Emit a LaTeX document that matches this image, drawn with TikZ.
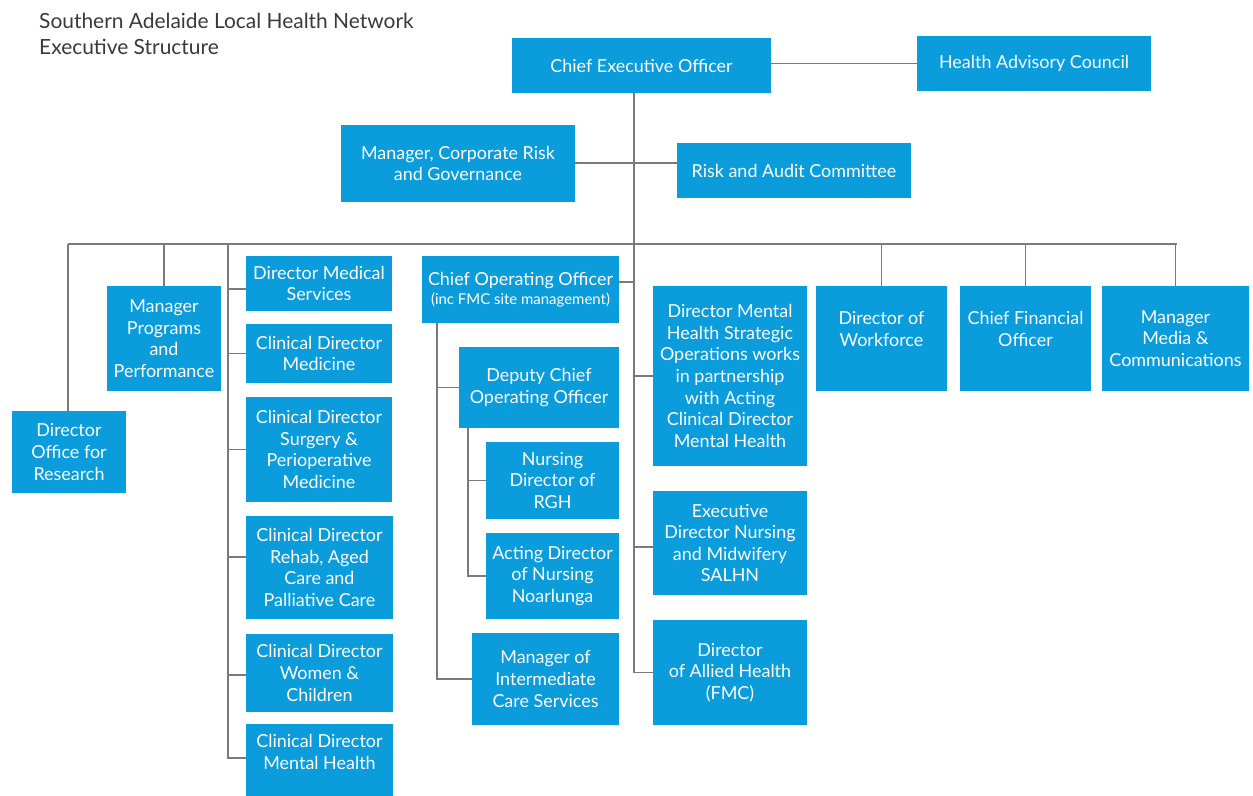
\documentclass[tikz,border=0pt]{standalone}
\usepackage{fontspec}
\setmainfont{Lato}
\definecolor{boxblue}{HTML}{0A9CDB}
\definecolor{linegray}{HTML}{7A7A7A}
\definecolor{titlegray}{HTML}{3A3A3A}
\begin{document}
\begin{tikzpicture}[x=1bp,y=-1bp,
  box/.style={fill=boxblue,text=white,inner sep=0pt,align=center,
    font=\fontsize{18}{21.7}\selectfont},
  conn/.style={draw=linegray,line width=1.3bp},
  ttl/.style={text=titlegray,align=left,anchor=north west,inner sep=0pt,
    font=\fontsize{21}{26}\selectfont}]
\useasboundingbox (0,0) rectangle (1253,796);
\fill[white] (0,0) rectangle (1253,796);

\node[ttl] (title) at (39,13) {Southern Adelaide Local Health Network\\Executive Structure};

\node[box,minimum width=259bp,minimum height=55bp] (ceo) at (641.5,65.5) {Chief Executive Officer};
\node[box,minimum width=234bp,minimum height=55bp] (hac) at (1034,63.5) {Health Advisory Council};
\node[box,minimum width=234bp,minimum height=77bp] (mcr) at (458,163.5) {Manager, Corporate Risk\\and Governance};
\node[box,minimum width=234bp,minimum height=55bp] (rac) at (794,170.5) {Risk and Audit Committee};

\node[box,minimum width=114bp,minimum height=82bp] (dor) at (69,452) {Director\\Office for\\Research};
\node[box,minimum width=114bp,minimum height=105bp] (mpp) at (164,338.5) {Manager\\Programs\\and\\Performance};

\node[box,minimum width=146bp,minimum height=55bp] (dms) at (319,283.5) {Director Medical\\Services};
\node[box,minimum width=146bp,minimum height=59bp] (cdm) at (319,353.5) {Clinical Director\\Medicine};
\node[box,minimum width=146bp,minimum height=105bp] (cds) at (319,449.5) {Clinical Director\\Surgery \&\\Perioperative\\Medicine};
\node[box,minimum width=147bp,minimum height=103bp] (cdr) at (319.5,567.5) {Clinical Director\\Rehab, Aged\\Care and\\Palliative Care};
\node[box,minimum width=147bp,minimum height=78bp] (cdw) at (319.5,673) {Clinical Director\\Women \&\\Children};
\node[box,minimum width=147bp,minimum height=77bp] (cdmh) at (319.5,762.5) {Clinical Director\\Mental Health\\\mbox{}};

\node[box,minimum width=197bp,minimum height=67bp] (coo) at (520.5,289.5) {Chief Operating Officer\\[-3bp]{\fontsize{15}{16}\selectfont (inc FMC site management)}};
\node[box,minimum width=160bp,minimum height=81bp] (dcoo) at (539,387.5) {Deputy Chief\\Operating Officer};
\node[box,minimum width=133bp,minimum height=77bp] (ndr) at (552.5,480.5) {Nursing\\Director of\\RGH};
\node[box,minimum width=133bp,minimum height=86bp] (adn) at (552.5,576) {Acting Director\\of Nursing\\Noarlunga};
\node[box,minimum width=147bp,minimum height=92bp] (mics) at (545.5,679) {Manager of\\Intermediate\\Care Services};

\node[box,minimum width=154bp,minimum height=180bp] (dmh) at (730,376) {Director Mental\\Health Strategic\\Operations works\\in partnership\\with Acting\\Clinical Director\\Mental Health};
\node[box,minimum width=154bp,minimum height=104bp] (edn) at (730,543) {Executive\\Director Nursing\\and Midwifery\\SALHN};
\node[box,minimum width=154bp,minimum height=105bp] (dah) at (730,672.5) {Director\\of Allied Health\\(FMC)};

\node[box,minimum width=131bp,minimum height=105bp] (dw) at (881.5,338.5) {Director of\\Workforce\\[-3bp]\mbox{}};
\node[box,minimum width=131bp,minimum height=105bp] (cfo) at (1025.5,338.5) {Chief Financial\\Officer\\[-3bp]\mbox{}};
\node[box,minimum width=147bp,minimum height=105bp] (mmc) at (1175.5,338.5) {Manager\\Media \&\\Communications};

\coordinate (sX) at (634,244);
\coordinate (busL) at (68,244);
\coordinate (busR) at (1177,244);
\coordinate (cX) at (228,244);
\coordinate (cooX) at (437,323);
\coordinate (dX) at (468,428);

% top level
\draw[conn] (hac.west -| ceo.east) -- (hac.west);
\draw[conn] (ceo.south -| sX) -- (sX |- dah.west);
\draw[conn] ([yshift=0.5bp]mcr.east) -- ([yshift=0.5bp]mcr.east -| rac.west);
\draw[conn] (busL) -- (busR);

% drops from bus
\draw[conn] (busL) -- (busL |- dor.north);
\draw[conn] (mpp.north |- busL) -- (mpp.north);
\draw[conn] (dw.north |- busL) -- (dw.north);
\draw[conn] (cfo.north |- busL) -- (cfo.north);
\draw[conn] (mmc.north |- busL) -- (mmc.north);

% clinical column
\draw[conn] (cX) |- ([yshift=-5.5bp]dms.west);
\draw[conn] (cX) |- (cdm.west);
\draw[conn] (cX) |- (cds.west);
\draw[conn] (cX) |- ([yshift=10.5bp]cdr.west);
\draw[conn] (cX) |- ([yshift=-2bp]cdw.west);
\draw[conn] (cX) |- ([yshift=4.5bp]cdmh.west);

% spine branches
\draw[conn] ([yshift=7.5bp]coo.east) -- ([yshift=7.5bp]coo.east -| sX);
\draw[conn] (dmh.west) -- (dmh.west -| sX);
\draw[conn] ([yshift=-4bp]edn.west) -- ([yshift=-4bp]edn.west -| sX);
\draw[conn] (dah.west) -- (dah.west -| sX);

% COO subtree
\draw[conn] (cooX) |- (dcoo.west);
\draw[conn] (cooX) |- (mics.west);
\draw[conn] (dX) |- (ndr.west);
\draw[conn] (dX) |- (adn.west);
\end{tikzpicture}
\end{document}
